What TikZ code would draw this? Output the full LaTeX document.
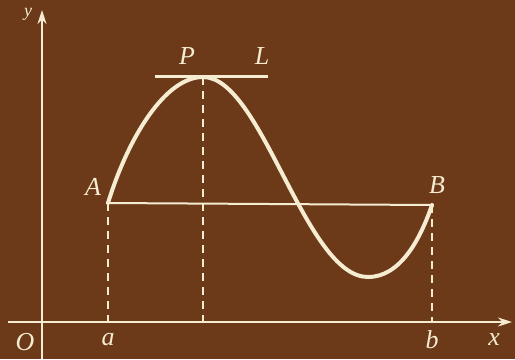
\documentclass[tikz,border=0pt]{standalone}
\usepackage{fontspec}
\setmainfont{Liberation Serif}
\usetikzlibrary{arrows.meta}
\definecolor{bg}{RGB}{108,58,24}
\definecolor{ink}{RGB}{246,236,210}
\begin{document}
\begin{tikzpicture}[x=1bp,y=-1bp,
  lbl/.style={text=ink,font=\fontsize{26}{28}\selectfont\itshape,inner sep=0pt},
  axis/.style={draw=ink,line width=2bp,-{Stealth[length=14bp,width=9bp]}},
  guide/.style={draw=ink,line width=2bp,dash pattern=on 8bp off 6bp},
  curve/.style={draw=ink,line width=4bp,line cap=round}]
\fill[bg] (0,0) rectangle (515,359);
\useasboundingbox (0,0) rectangle (515,359);
\clip (0,0) rectangle (515,359);
\coordinate (xs) at (8,322);
\coordinate (xe) at (512,322);
\coordinate (ys) at (42,359);
\coordinate (ye) at (42,10);
\coordinate (A) at (108,203);
\coordinate (B) at (432,205);
\coordinate (P) at (203,77);
\coordinate (M) at (368,277);
\coordinate (a) at (108,322);
\coordinate (b) at (432,322);
\coordinate (p) at (203,322);
\coordinate (T1) at (155,76);
\coordinate (T2) at (268,76);
\draw[axis] (xs) -- (xe);
\draw[axis] (ys) -- (ye);
\draw[guide] (A) -- (a);
\draw[guide] (B) -- (b);
\draw[guide] (P) -- (p);
\draw[draw=ink,line width=2bp] (A) -- (B);
\draw[draw=ink,line width=3bp] (T1) -- (T2);
\draw[curve] (A) .. controls (128,138) and (165,77) .. (P)
  .. controls (262,77) and (305,277) .. (M)
  .. controls (400,277) and (420,240) .. (B);
\node[lbl] (lO) at (25,342) {O};
\node[lbl] (la) at (108,340) {a};
\node[lbl] (lb) at (432,340) {b};
\node[lbl] (lx) at (494,340) {x};
\node[lbl] (lA) at (93,187) {A};
\node[lbl] (lB) at (437,185) {B};
\node[lbl] (lP) at (187,56) {P};
\node[lbl] (lL) at (262,56) {L};
\node[lbl,font=\fontsize{18}{20}\selectfont\itshape] (ly) at (28,14) {y};
\end{tikzpicture}
\end{document}
